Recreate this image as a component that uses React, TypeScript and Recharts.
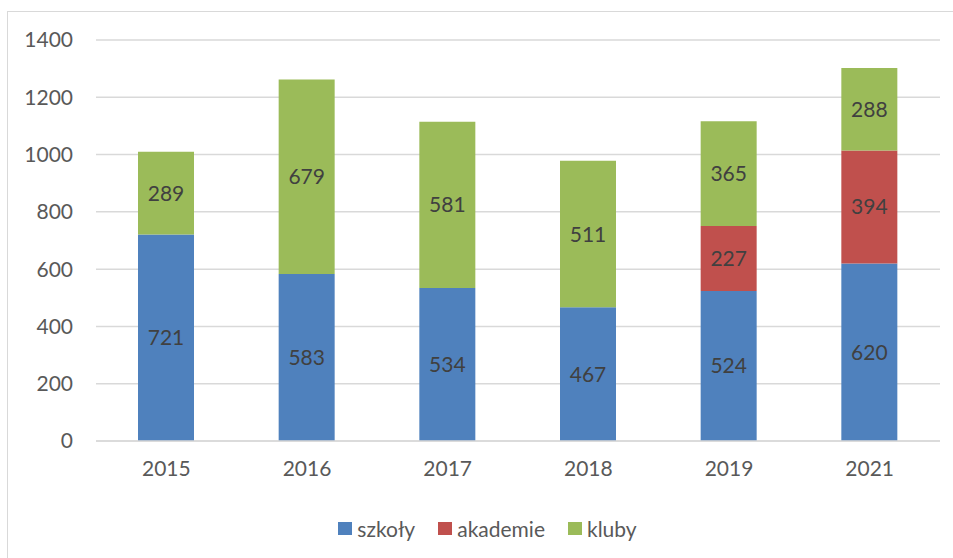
import React from "react";
import { BarChart, Bar, XAxis, YAxis, CartesianGrid, LabelList } from "recharts";

const years = ["2015", "2016", "2017", "2018", "2019", "2021"];
const szkoly = [721, 583, 534, 467, 524, 620];
const akademie = [0, 0, 0, 0, 227, 394];
const kluby = [289, 679, 581, 511, 365, 288];
const yTicks = [0, 200, 400, 600, 800, 1000, 1200, 1400];

const seriesNames = ["szkoły", "akademie", "kluby"];
const colors = ["#4f81bd", "#c0504d", "#9bbb59"];

const data = years.map((y, i) => ({
  year: y,
  szkoly: szkoly[i],
  akademie: akademie[i] || null,
  kluby: kluby[i],
}));

const FONT = "Lato, 'Liberation Sans', sans-serif";
const FS = 21;

const labelFmt = (v: any) => (v ? v : "");

export default function App() {
  return (
    <div style={{ position: "absolute", left: 0, top: 0, width: 953, height: 558, overflow: "hidden", background: "#fff" }}>
      <div style={{ position: "absolute", left: 7, top: 11, width: 960, height: 570, border: "1.5px solid #d9d9d9", boxSizing: "border-box" }} />
      <BarChart
        width={953}
        height={558}
        data={data}
        margin={{ top: 40, right: 13, bottom: 87, left: 0 }}
        style={{ position: "absolute", left: 0, top: 0 }}
      >
        <CartesianGrid vertical={false} stroke="#d9d9d9" strokeWidth={1.5} />
        <XAxis
          dataKey="year"
          height={30}
          tickLine={false}
          axisLine={{ stroke: "#d9d9d9", strokeWidth: 1.5 }}
          tickSize={0}
          tickMargin={20}
          tick={{ fill: "#595959", fontSize: FS, fontFamily: FONT }}
        />
        <YAxis
          width={96}
          domain={[0, 1400]}
          ticks={yTicks}
          axisLine={false}
          tickLine={false}
          tickSize={0}
          tickMargin={23}
          tick={{ fill: "#595959", fontSize: FS, fontFamily: FONT }}
        />
        <Bar dataKey="szkoly" name="szkoły" stackId="a" fill={colors[0]} barSize={56} isAnimationActive={false}>
          <LabelList dataKey="szkoly" position="center" formatter={labelFmt} fill="#404040" fontSize={FS} fontFamily={FONT} />
        </Bar>
        <Bar dataKey="akademie" name="akademie" stackId="a" fill={colors[1]} barSize={56} isAnimationActive={false}>
          <LabelList dataKey="akademie" position="center" formatter={labelFmt} fill="#404040" fontSize={FS} fontFamily={FONT} />
        </Bar>
        <Bar dataKey="kluby" name="kluby" stackId="a" fill={colors[2]} barSize={56} isAnimationActive={false}>
          <LabelList dataKey="kluby" position="center" formatter={labelFmt} fill="#404040" fontSize={FS} fontFamily={FONT} />
        </Bar>
      </BarChart>
      <div style={{ position: "absolute", left: 0, width: 953, top: 516, display: "flex", justifyContent: "center", paddingLeft: 22, boxSizing: "border-box", alignItems: "center", fontFamily: FONT, fontSize: FS, color: "#595959" }}>
        {seriesNames.map((n, i) => (
          <div key={n} style={{ display: "flex", alignItems: "center", marginRight: i < 2 ? 23 : 0 }}>
            <span style={{ display: "inline-block", width: 14, height: 13, background: colors[i], marginRight: 5 }} />
            <span>{n}</span>
          </div>
        ))}
      </div>
    </div>
  );
}
